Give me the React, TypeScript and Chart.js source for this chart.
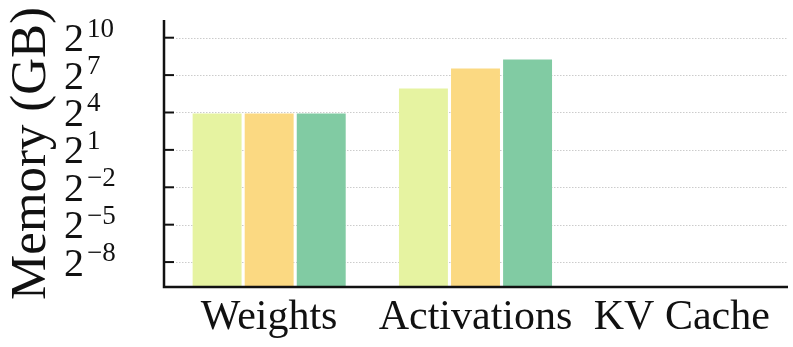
import React, { useEffect, useRef } from 'react';
import { Chart, registerables } from 'chart.js';

Chart.register(...registerables);

const categories = ['Weights', 'Activations', 'KV Cache'];
const seriesNames = ['Series A', 'Series B', 'Series C'];
const seriesA = [15.1, 61, null];
const seriesB = [15.1, 185, null];
const seriesC = [15.1, 304, null];
const seriesColors = ['#e6f3a1', '#fbd982', '#81cba3'];
const tickExponents = [-8, -5, -2, 1, 4, 7, 10];
const yMinExp = -10;
const yMaxExp = 11.42;

const FONT = '"Liberation Serif", "Times New Roman", Times, serif';
const AXIS_X = 164;
const AXIS_RIGHT = 788;

const customAxes = {
  id: 'customAxes',
  beforeDatasetsDraw(chart: any) {
    const { ctx, chartArea, scales } = chart;
    const y = scales.y;
    ctx.save();
    ctx.strokeStyle = '#cccccc';
    ctx.lineWidth = 1;
    ctx.setLineDash([1.5, 1.5]);
    tickExponents.forEach((e) => {
      const py = Math.round(y.getPixelForValue(Math.pow(2, e))) + 0.5;
      ctx.beginPath();
      ctx.moveTo(AXIS_X + 12, py);
      ctx.lineTo(AXIS_RIGHT, py);
      ctx.stroke();
    });
    ctx.restore();
  },
  afterDraw(chart: any) {
    const { ctx, chartArea, scales } = chart;
    const y = scales.y;
    ctx.save();
    ctx.strokeStyle = '#111111';
    ctx.setLineDash([]);
    ctx.lineWidth = 2.5;
    ctx.beginPath();
    ctx.moveTo(AXIS_X, chartArea.top);
    ctx.lineTo(AXIS_X, chartArea.bottom);
    ctx.lineTo(AXIS_RIGHT, chartArea.bottom);
    ctx.stroke();
    ctx.lineWidth = 2;
    tickExponents.forEach((e) => {
      const py = y.getPixelForValue(Math.pow(2, e));
      ctx.beginPath();
      ctx.moveTo(AXIS_X, py);
      ctx.lineTo(AXIS_X + 10, py);
      ctx.stroke();
    });
    ctx.fillStyle = '#111111';
    ctx.textAlign = 'left';
    ctx.textBaseline = 'alphabetic';
    tickExponents.forEach((e) => {
      const py = y.getPixelForValue(Math.pow(2, e));
      ctx.font = `40px ${FONT}`;
      const baseX = 64;
      ctx.fillText('2', baseX, py + 13.5);
      const w = ctx.measureText('2').width;
      ctx.font = `27px ${FONT}`;
      const expText = e < 0 ? '\u2212' + String(-e) : String(e);
      ctx.fillText(expText, baseX + w + 3, py - 1);
    });
    ctx.restore();
  },
};

export default function App() {
  const ref = useRef<HTMLCanvasElement>(null);
  useEffect(() => {
    if (!ref.current) return;
    const data = [seriesA, seriesB, seriesC];
    const chart = new Chart(ref.current, {
      type: 'bar',
      data: {
        labels: categories,
        datasets: data.map((d, i) => ({
          label: seriesNames[i],
          data: d as any,
          backgroundColor: seriesColors[i],
          borderWidth: 0,
          categoryPercentage: 0.757,
          barPercentage: 0.94,
        })),
      },
      plugins: [customAxes],
      options: {
        animation: false,
        responsive: false,
        maintainAspectRatio: false,
        layout: { padding: { top: 20, right: 8, left: 0, bottom: 0 } },
        plugins: { legend: { display: false }, tooltip: { enabled: false } },
        scales: {
          x: {
            type: 'category',
            grid: { display: false, drawTicks: false },
            border: { display: false },
            ticks: {
              color: '#111111',
              font: { family: FONT, size: 42 },
              padding: 6,
              maxRotation: 0,
              autoSkip: false,
            },
            afterFit: (s: any) => {
              s.height = 60;
            },
          },
          y: {
            type: 'logarithmic',
            min: Math.pow(2, yMinExp),
            max: Math.pow(2, yMaxExp),
            grid: { display: false, drawTicks: false },
            border: { display: false },
            ticks: { display: false },
            title: {
              display: true,
              text: 'Memory (GB)',
              color: '#111111',
              font: { family: FONT, size: 51 },
              padding: { top: 1, bottom: 0 },
            },
            afterFit: (s: any) => {
              s.width = 166;
            },
          },
        },
      },
    });
    return () => chart.destroy();
  }, []);
  return (
    <div style={{ position: 'absolute', left: 0, top: 0, width: 793, height: 347, background: '#fff' }}>
      <canvas ref={ref} width={793} height={347} style={{ width: 793, height: 347, display: 'block' }} />
    </div>
  );
}
